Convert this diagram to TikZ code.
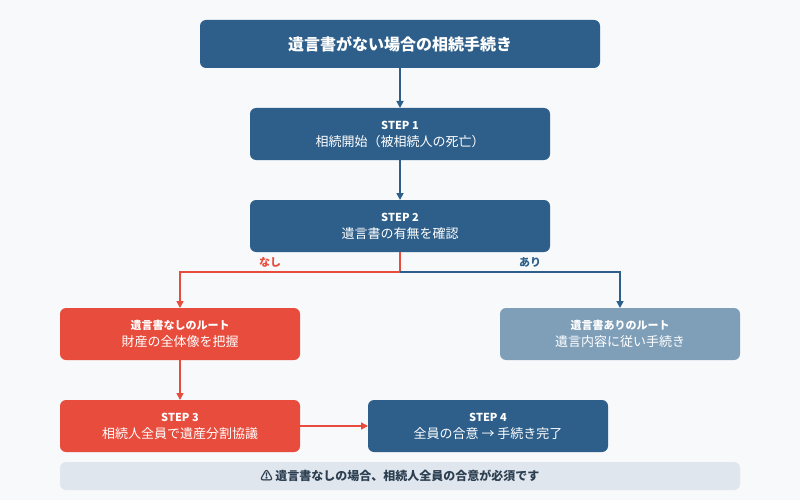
\documentclass[tikz,border=0pt]{standalone}
\usepackage{fontspec}
\setmainfont{Noto Sans CJK JP}
\usetikzlibrary{arrows.meta}
\definecolor{dblue}{HTML}{2D5F8A}
\definecolor{dred}{HTML}{E74C3C}
\definecolor{gblue}{HTML}{7F9FB9}
\definecolor{bg}{HTML}{F7F9FB}
\definecolor{note}{HTML}{DFE6ED}
\definecolor{notetext}{HTML}{2C3E50}
\begin{document}
\begin{tikzpicture}[x=1pt,y=-1pt,
  box/.style={rounded corners=6pt,draw=none,text=white,align=center,font=\fontsize{13}{17}\selectfont},
  arr/.style={-{Triangle[length=7pt,width=7pt]},line width=1.6pt}]
\fill[bg] (0,0) rectangle (800,500);
\useasboundingbox (0,0) rectangle (800,500);
\fill[dblue,rounded corners=6pt] (200,20) rectangle (600,68);
\node[text=white,font=\fontsize{16}{20}\selectfont\bfseries] (t) at (400,44) {遺言書がない場合の相続手続き};
\coordinate (tb) at (400,68);
\fill[dblue,rounded corners=6pt] (250,108) rectangle (550,160);
\node[box] (s1) at (400,134) {{\fontsize{11}{14}\selectfont\bfseries STEP 1}\\相続開始（被相続人の死亡）};
\coordinate (s1t) at (400,108); \coordinate (s1b) at (400,160);
\fill[dblue,rounded corners=6pt] (250,200) rectangle (550,252);
\node[box] (s2) at (400,226) {{\fontsize{11}{14}\selectfont\bfseries STEP 2}\\遺言書の有無を確認};
\coordinate (s2t) at (400,200); \coordinate (s2b) at (400,252);
\fill[dred,rounded corners=6pt] (60,308) rectangle (300,360);
\node[box] (l) at (180,334) {{\fontsize{11}{14}\selectfont\bfseries 遺言書なしのルート}\\財産の全体像を把握};
\coordinate (lt) at (180,308); \coordinate (lb) at (180,360);
\fill[gblue,rounded corners=6pt] (500,308) rectangle (740,360);
\node[box] (r) at (620,334) {{\fontsize{11}{14}\selectfont\bfseries 遺言書ありのルート}\\遺言内容に従い手続き};
\coordinate (rt) at (620,308);
\fill[dred,rounded corners=6pt] (60,400) rectangle (300,452);
\node[box] (s3) at (180,426) {{\fontsize{11}{14}\selectfont\bfseries STEP 3}\\相続人全員で遺産分割協議};
\coordinate (s3t) at (180,400); \coordinate (s3r) at (300,426);
\fill[dblue,rounded corners=6pt] (368,400) rectangle (608,452);
\node[box] (s4) at (488,426) {{\fontsize{11}{14}\selectfont\bfseries STEP 4}\\全員の合意 → 手続き完了};
\coordinate (s4l) at (368,426);
\fill[note,rounded corners=6pt] (60,462) rectangle (740,490);
\node[text=notetext,font=\fontsize{12}{15}\selectfont\bfseries] (n) at (400,476) {⚠ 遺言書なしの場合、相続人全員の合意が必須です};
\draw[arr,dblue] (tb) -- (s1t);
\draw[arr,dblue] (s1b) -- (s2t);
\draw[arr,dred] (s2b) -- (400,272) -- (180,272) -- (lt);
\draw[arr,dblue] (400,272) -- (620,272) -- (rt);
\node[text=dred,font=\fontsize{11}{14}\selectfont\bfseries] (nl) at (270,262) {なし};
\node[text=dblue,font=\fontsize{11}{14}\selectfont\bfseries] (al) at (530,262) {あり};
\draw[arr,dred] (lb) -- (s3t);
\draw[arr,dred] (s3r) -- (s4l);
\end{tikzpicture}
\end{document}
